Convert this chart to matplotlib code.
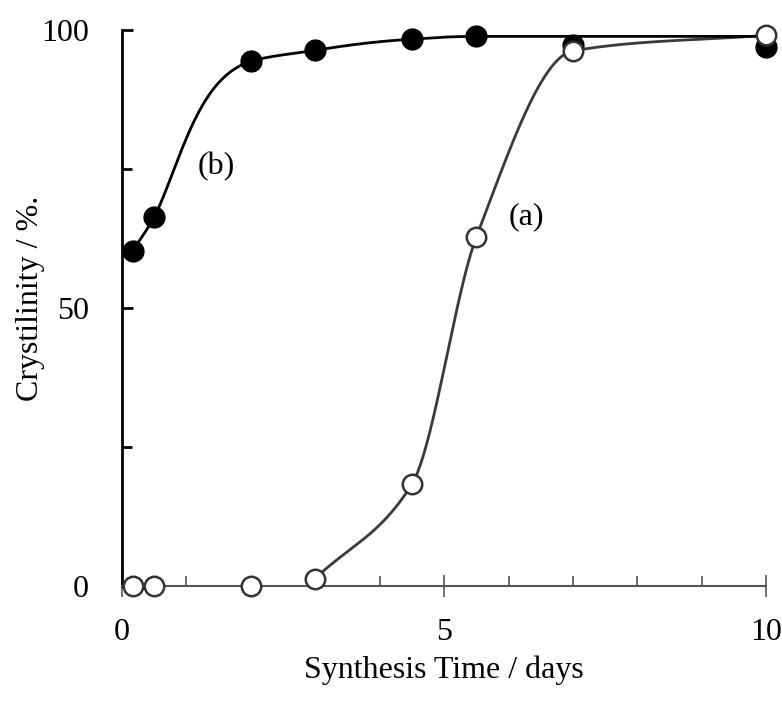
import numpy as np
import matplotlib
matplotlib.use("Agg")
import matplotlib.pyplot as plt
from matplotlib.ticker import MultipleLocator

# synthesis time (days)
days = [0.17, 0.5, 2, 3, 4.5, 5.5, 7, 10]
# (a) open circles
cryst_a = [0, 0, 0, 1.3, 18.3, 62.8, 96.3, 99.1]
# (b) filled circles
cryst_b = [60.3, 66.4, 94.4, 96.4, 98.4, 98.9, 97.4, 97.0]


def pchip(x, y, xs):
    # monotone cubic (Fritsch-Carlson) through the points
    x = np.asarray(x, float)
    y = np.asarray(y, float)
    h = np.diff(x)
    d = np.diff(y) / h
    m = np.zeros_like(y)
    for i in range(1, len(x) - 1):
        if d[i - 1] * d[i] > 0:
            w1 = 2 * h[i] + h[i - 1]
            w2 = h[i] + 2 * h[i - 1]
            m[i] = (w1 + w2) / (w1 / d[i - 1] + w2 / d[i])
    m[0] = d[0]
    m[-1] = d[-1]
    out = np.empty_like(xs)
    for j, v in enumerate(xs):
        k = min(np.searchsorted(x, v, side="right") - 1, len(x) - 2)
        t = (v - x[k]) / h[k]
        h00 = 2 * t**3 - 3 * t**2 + 1
        h10 = t**3 - 2 * t**2 + t
        h01 = -2 * t**3 + 3 * t**2
        h11 = t**3 - t**2
        out[j] = h00 * y[k] + h10 * h[k] * m[k] + h01 * y[k + 1] + h11 * h[k] * m[k + 1]
    return out


plt.rcParams["font.family"] = ["Liberation Serif", "DejaVu Serif"]

fig = plt.figure(figsize=(7.82, 7.04), dpi=100)
ax = fig.add_axes([0.156, 0.168, 0.824, 0.789])

# smooth trend lines (plateau kept at the running maximum)
xa = np.array(days[3:])
ya = np.maximum.accumulate(np.array(cryst_a[3:]))
xs_a = np.linspace(xa[0], xa[-1], 300)
ax.plot(xs_a, pchip(xa, ya, xs_a), color="#3a3a3a", lw=2, zorder=2)

# (b) saturating: interpolate the distance to the plateau on a log scale
xb = np.array(days)
yb = np.maximum.accumulate(np.array(cryst_b))
top = yb.max() + 0.3
xs_b = np.linspace(xb[0], xb[-1], 400)
ys_b = top - np.exp(pchip(xb, np.log(top - yb), xs_b))
ax.plot(xs_b, ys_b, color="black", lw=2, zorder=2)

ax.plot(days, cryst_b, "o", ms=15, color="black", zorder=3, clip_on=False)
ax.plot(days, cryst_a, "o", ms=14, mfc="white", mec="#333333", mew=1.8, zorder=4,
        clip_on=False)

ax.text(1.47, 75.4, "(b)", fontsize=23, ha="center", va="center")
ax.text(6.27, 66.5, "(a)", fontsize=23, ha="center", va="center")

ax.set_xlim(0, 10)
ax.set_ylim(0, 100)
ax.spines["top"].set_visible(False)
ax.spines["right"].set_visible(False)
ax.spines["left"].set_linewidth(2)
ax.spines["bottom"].set_linewidth(1.5)
ax.spines["bottom"].set_color("#555555")

ax.xaxis.set_major_locator(MultipleLocator(5))
ax.xaxis.set_minor_locator(MultipleLocator(1))
ax.yaxis.set_major_locator(MultipleLocator(50))
ax.yaxis.set_minor_locator(MultipleLocator(25))
ax.tick_params(axis="x", which="major", direction="inout", length=16, width=1.2,
               color="#555555", labelsize=23, pad=15)
ax.tick_params(axis="x", which="minor", direction="in", length=7, width=1.2, color="#555555")
ax.tick_params(axis="y", which="major", direction="in", length=8, width=2, labelsize=23, pad=24)
ax.tick_params(axis="y", which="minor", direction="in", length=7, width=2)

ax.set_xlabel("Synthesis Time / days", fontsize=23, labelpad=6)
ax.set_ylabel("Crystilinity / %.", fontsize=23)
ax.yaxis.set_label_coords(-0.12, 0.518)

fig.savefig("out.png", dpi=100)
